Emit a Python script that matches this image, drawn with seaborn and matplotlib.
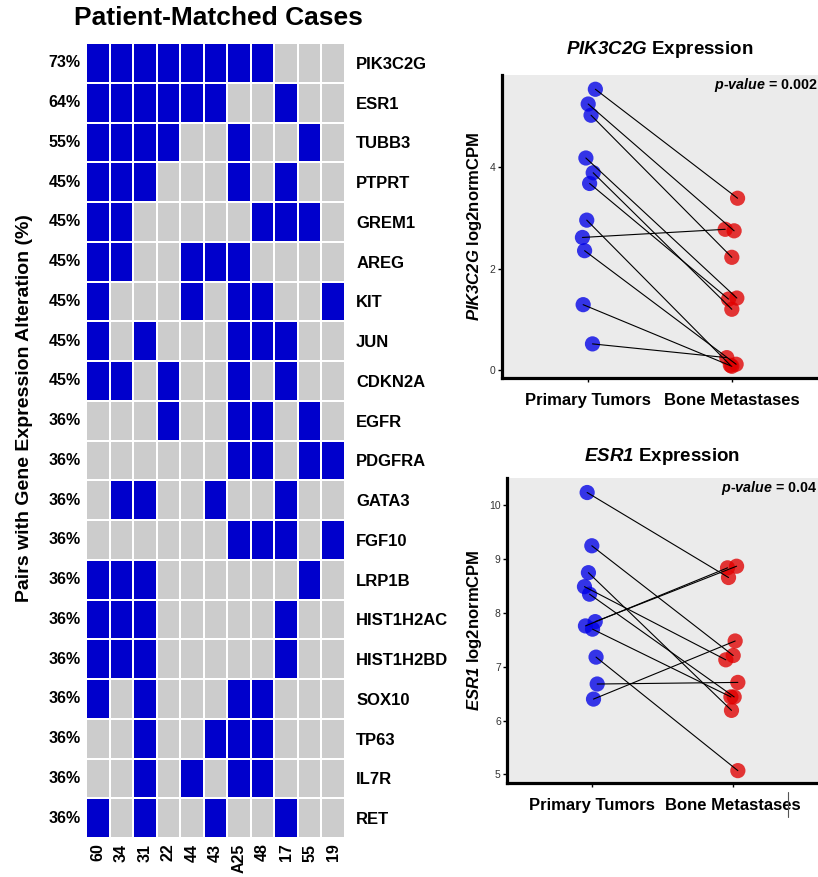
import numpy as np
import pandas as pd
import matplotlib
matplotlib.use("Agg")
import matplotlib.pyplot as plt
import seaborn as sns
from matplotlib.colors import ListedColormap
from matplotlib.lines import Line2D

# heatmap data: 1 = expression alteration in the patient-matched pair
genes = ["PIK3C2G", "ESR1", "TUBB3", "PTPRT", "GREM1", "AREG", "KIT", "JUN",
         "CDKN2A", "EGFR", "PDGFRA", "GATA3", "FGF10", "LRP1B", "HIST1H2AC",
         "HIST1H2BD", "SOX10", "TP63", "IL7R", "RET"]
cases = ["60", "34", "31", "22", "44", "43", "A25", "48", "17", "55", "19"]
alteration = [
    [1, 1, 1, 1, 1, 1, 1, 1, 0, 0, 0],
    [1, 1, 1, 1, 1, 1, 0, 0, 1, 0, 0],
    [1, 1, 1, 1, 0, 0, 1, 0, 0, 1, 0],
    [1, 1, 1, 0, 0, 0, 1, 0, 1, 0, 0],
    [1, 1, 0, 0, 0, 0, 0, 1, 1, 1, 0],
    [1, 1, 0, 0, 1, 1, 1, 0, 0, 0, 0],
    [1, 0, 0, 0, 1, 0, 1, 1, 0, 0, 1],
    [1, 0, 1, 0, 0, 0, 1, 1, 1, 0, 0],
    [1, 1, 0, 1, 0, 0, 1, 0, 1, 0, 0],
    [0, 0, 0, 1, 0, 0, 1, 1, 0, 1, 0],
    [0, 0, 0, 0, 0, 0, 1, 1, 0, 1, 1],
    [0, 1, 1, 0, 0, 1, 0, 0, 1, 0, 0],
    [0, 0, 0, 0, 0, 0, 1, 1, 1, 0, 1],
    [1, 1, 1, 0, 0, 0, 0, 0, 0, 1, 0],
    [1, 1, 1, 0, 0, 0, 0, 0, 1, 0, 0],
    [1, 1, 1, 0, 0, 0, 0, 0, 1, 0, 0],
    [1, 0, 1, 0, 0, 0, 1, 1, 0, 0, 0],
    [0, 0, 1, 0, 0, 1, 1, 1, 0, 0, 0],
    [0, 0, 1, 0, 1, 0, 1, 1, 0, 0, 0],
    [1, 0, 1, 0, 0, 1, 0, 0, 1, 0, 0],
]

# paired expression values (log2normCPM), index = patient pair
groups = ["Primary Tumors", "Bone Metastases"]
pik_primary = [5.52, 5.23, 5.01, 4.17, 3.88, 3.67, 2.95, 2.61, 2.35, 1.29, 0.52]
pik_bone = [3.38, 2.74, 2.22, 1.42, 1.20, 1.40, 0.10, 2.77, 0.12, 0.08, 0.25]
esr_primary = [10.24, 9.25, 8.75, 8.49, 8.35, 7.76, 7.84, 7.70, 7.18, 6.68, 6.40]
esr_bone = [8.66, 7.21, 6.19, 7.13, 6.44, 8.84, 8.87, 6.44, 5.07, 6.71, 7.48]
pvalues = ["0.002", "0.04"]

# horizontal jitter as seen in the picture
pik_jit_p = [0.05, 0.0, 0.02, -0.016, 0.035, 0.01, -0.01, -0.04, -0.025, -0.035, 0.03]
pik_jit_b = [0.04, 0.016, 0.0, 0.035, 0.0, -0.023, -0.01, -0.046, 0.03, 0.0, -0.035]
esr_jit_p = [-0.033, 0.0, -0.024, -0.052, -0.016, -0.045, 0.024, 0.005, 0.03, 0.038, 0.012]
esr_jit_b = [-0.033, 0.0, -0.012, -0.052, 0.007, -0.04, 0.024, -0.016, 0.033, 0.033, 0.014]

sns.set_style("white")
plt.rcParams["font.family"] = ["Liberation Sans", "DejaVu Sans"]
plt.rcParams["text.color"] = "black"
plt.rcParams["axes.labelcolor"] = "black"
plt.rcParams["xtick.color"] = "black"
plt.rcParams["ytick.color"] = "black"
# math text is only used for the italic gene names / p-value
plt.rcParams["mathtext.fontset"] = "custom"
plt.rcParams["mathtext.it"] = "Liberation Sans:italic:bold"
plt.rcParams["mathtext.rm"] = "Liberation Sans:italic:bold"
plt.rcParams["mathtext.bf"] = "Liberation Sans:italic:bold"

W, H = 818, 877
fig = plt.figure(figsize=(W / 100, H / 100), dpi=100)


def box(l, t, r, b):
    return [l / W, 1 - b / H, (r - l) / W, (b - t) / H]


# ---- heatmap ----
mat = pd.DataFrame(alteration, index=genes, columns=cases)
pct = [f"{round(100 * s / len(cases))}%" for s in mat.sum(axis=1)]

ax = fig.add_axes(box(86, 43, 345, 838))
sns.heatmap(mat, ax=ax, cmap=ListedColormap(["#CCCCCC", "#0000CC"]), cbar=False,
            linewidths=1.3, linecolor="white", xticklabels=cases, yticklabels=pct)
ax.tick_params(length=0, pad=4)
ax.set_yticklabels(pct, rotation=0, fontsize=11.5, fontweight="bold")
ax.set_xticklabels(cases, rotation=90, fontsize=11.5, fontweight="bold")
ax.set_xlabel("")
ax.set_ylabel("")

ax2 = ax.twinx()
ax2.set_ylim(ax.get_ylim())
ax2.set_yticks(np.arange(len(genes)) + 0.5)
ax2.set_yticklabels(genes, fontsize=12, fontweight="bold")
ax2.tick_params(length=0, pad=8)
for s in ax2.spines.values():
    s.set_visible(False)

fig.text(218 / W, 1 - 18 / H, "Patient-Matched Cases", ha="center", va="center",
         fontsize=19, fontweight="bold")
fig.text(25 / W, 1 - 408 / H, "Pairs with Gene Expression Alteration (%)",
         rotation=90, ha="center", va="center", fontsize=14, fontweight="bold")


# ---- paired dot plots ----
def paired(ax, gene, prim, bone, jp, jb, pval, yticks, ylim, tpad):
    n = len(prim)
    df = pd.DataFrame({
        "group": [groups[0]] * n + [groups[1]] * n,
        "value": prim + bone,
        "pair": list(range(n)) * 2,
        "xpos": [j for j in jp] + [1 + j for j in jb],
    })
    ax.set_facecolor("#EBEBEB")
    sns.scatterplot(data=df, x="xpos", y="value", hue="group", ax=ax,
                    palette={groups[0]: "#0000E6", groups[1]: "#E00000"},
                    s=120, alpha=0.78, edgecolor="none", legend=False, zorder=2)
    sns.lineplot(data=df, x="xpos", y="value", units="pair", estimator=None,
                 color="black", lw=0.8, ax=ax, zorder=3, sort=False)
    ax.set_xlim(-0.6, 1.6)
    ax.set_ylim(*ylim)
    ax.set_xticks([0, 1])
    ax.set_xticklabels(groups, fontsize=12, fontweight="bold")
    ax.set_yticks(yticks)
    ax.set_yticklabels([str(v) for v in yticks], fontsize=7.5, color="#333333")
    ax.tick_params(axis="x", length=3, width=1, pad=8, bottom=True)
    ax.tick_params(axis="y", length=3, width=1, pad=1.5, left=True)
    for side in ["top", "right"]:
        ax.spines[side].set_visible(False)
    for side in ["left", "bottom"]:
        ax.spines[side].set_linewidth(2.3)
        ax.spines[side].set_color("black")
    ax.set_xlabel("")
    ax.set_ylabel(rf"$\mathit{{{gene}}}$ log2normCPM", fontsize=12,
                  fontweight="bold", labelpad=4)
    ax.set_title(rf"$\mathit{{{gene}}}$ Expression", fontsize=13.5,
                 fontweight="bold", pad=tpad)
    ax.text(0.998, 0.967, rf"$\mathit{{p}}$-$\mathit{{value}}$ = {pval}",
            transform=ax.transAxes, ha="right", va="center", fontsize=10.3,
            fontweight="bold")


axt = fig.add_axes(box(502, 75, 818, 378))
paired(axt, "PIK3C2G", pik_primary, pik_bone, pik_jit_p, pik_jit_b, pvalues[0],
       [0, 2, 4], (-0.15, 5.8), 15)

axb = fig.add_axes(box(507, 478, 818, 783))
paired(axb, "ESR1", esr_primary, esr_bone, esr_jit_p, esr_jit_b, pvalues[1],
       [5, 6, 7, 8, 9, 10], (4.84, 10.51), 12)

# stray cursor mark in the original image
fig.add_artist(Line2D([788 / W, 788 / W], [1 - 792 / H, 1 - 817 / H],
                      color="#555555", lw=0.8))

fig.savefig("out.png", dpi=100)
